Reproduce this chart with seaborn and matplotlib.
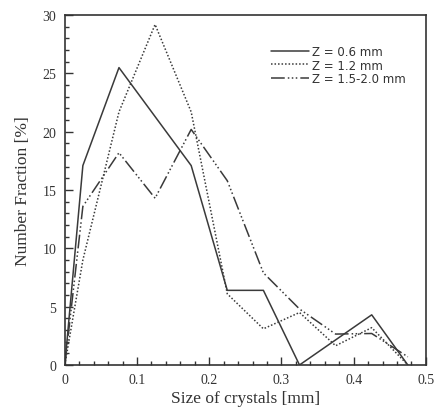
import numpy as np
import pandas as pd
import matplotlib
matplotlib.use("Agg")
import matplotlib.pyplot as plt
from matplotlib.ticker import MultipleLocator
import seaborn as sns

# Datos (tamaño de cristal vs fracción en número)
size_mm = [0.0, 0.025, 0.075, 0.125, 0.175, 0.225, 0.275, 0.325, 0.375, 0.425, 0.475]
z06 = [0.0, 17.1, 25.5, 21.3, 17.1, 6.4, 6.4, 0.0, 2.15, 4.3, 0.0]
z12 = [0.0, 9.0, 21.7, 29.2, 21.7, 6.1, 3.1, 4.5, 1.65, 3.2, 0.0]
z15_20 = [0.0, 13.6, 18.2, 14.3, 20.2, 15.8, 7.9, 4.8, 2.65, 2.7, 0.7]

labels = ["Z = 0.6 mm", "Z = 1.2 mm", "Z = 1.5-2.0 mm"]

df = pd.DataFrame({
    "size": size_mm * 3,
    "frac": z06 + z12 + z15_20,
    "serie": [labels[0]] * len(size_mm) + [labels[1]] * len(size_mm) + [labels[2]] * len(size_mm),
})

sns.set_style("ticks")
plt.rcParams["font.family"] = ["Liberation Serif", "DejaVu Serif"]

fig = plt.figure(figsize=(4.35, 4.14), dpi=100)
ax = fig.add_axes([0.149, 0.116, 0.830, 0.845])

estilos = {
    labels[0]: "-",
    labels[1]: (0, (1, 1.3)),
    labels[2]: (0, (9, 2, 1, 1.6, 1, 1.6, 1, 2)),
}
color = "#3a3a3a"

for lab in labels:
    sub = df[df["serie"] == lab]
    sns.lineplot(data=sub, x="size", y="frac", ax=ax, color=color,
                 linewidth=1.1, linestyle=estilos[lab], label=lab,
                 estimator=None, sort=False)

ax.set_xlim(0, 0.5)
ax.set_ylim(0, 30)
ax.xaxis.set_major_locator(MultipleLocator(0.1))
ax.xaxis.set_minor_locator(MultipleLocator(0.02))
ax.yaxis.set_major_locator(MultipleLocator(5))
ax.yaxis.set_minor_locator(MultipleLocator(1))
ax.set_xticks([0, 0.1, 0.2, 0.3, 0.4, 0.5])
ax.set_xticklabels(["0", "0.1", "0.2", "0.3", "0.4", "0.5"])
ax.tick_params(which="both", direction="in", top=False, right=False,
               labelsize=10, colors="#333333", pad=6)
ax.tick_params(which="major", length=6, width=1)
ax.tick_params(which="minor", length=3, width=1)
for s in ax.spines.values():
    s.set_color("#333333")
    s.set_linewidth(1.2)

ax.set_xlabel("Size of crystals [mm]", fontsize=12.5, color="#333333", labelpad=3)
ax.set_ylabel("Number Fraction [%]", fontsize=12.5, color="#333333", labelpad=8)

leg = ax.legend(loc="upper right", bbox_to_anchor=(0.975, 0.945), frameon=False,
                handlelength=3.2, handletextpad=0.3, labelspacing=0.05,
                prop={"family": "DejaVu Sans", "size": 8.5})
for t in leg.get_texts():
    t.set_color("#333333")

fig.savefig("out.png", dpi=100)
